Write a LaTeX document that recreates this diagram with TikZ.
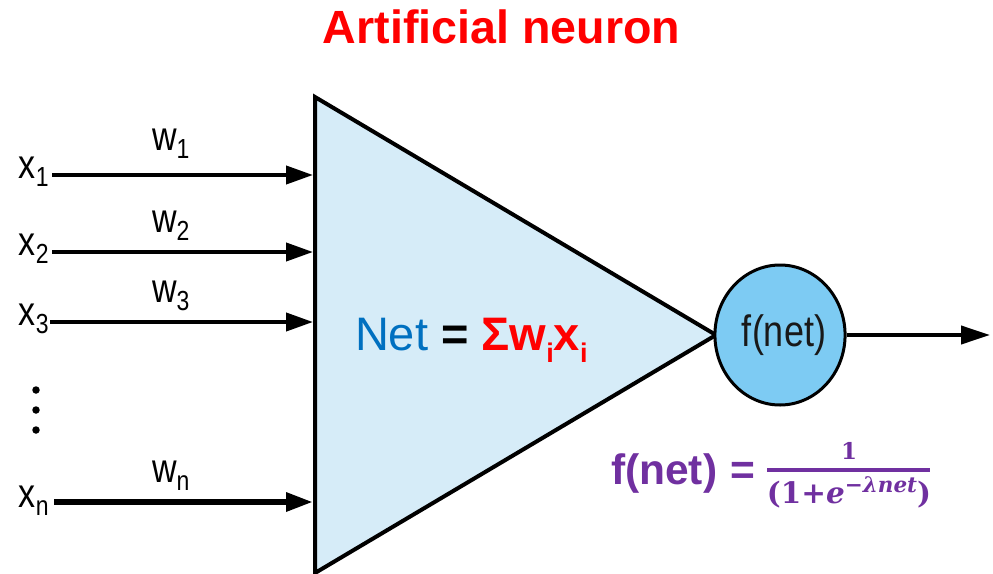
\RequirePackage{fix-cm}
\documentclass[tikz,border=0pt]{standalone}
\usepackage{graphicx}
\usepackage{fontspec}
\setmainfont{Liberation Sans}
\newfontfamily\fracfont{DejaVu Serif}
\usetikzlibrary{shapes.geometric,arrows.meta}
\definecolor{titlered}{RGB}{255,0,0}
\definecolor{netblue}{RGB}{0,112,192}
\definecolor{fpurple}{RGB}{112,48,160}
\definecolor{trifill}{RGB}{214,236,248}
\definecolor{circfill}{RGB}{125,203,243}
\newcommand\inlab[2]{\scalebox{1}[1.2]{\fontsize{34}{34}\selectfont #1\raisebox{-7pt}{\fontsize{23}{23}\selectfont #2}}}
\newcommand\netsub[1]{\raisebox{-12pt}{\fontsize{27}{27}\selectfont #1}}
\tikzset{
  lab/.style={anchor=base west,inner sep=0pt,outer sep=0pt},
  fracpart/.style={anchor=base,inner sep=0pt,outer sep=0pt,text=fpurple},
  inarrow/.style={line width=4pt,-{Triangle[length=27pt,width=18pt]}},
  dotmark/.style={circle,fill=black,minimum size=7.5pt,inner sep=0pt},
}
\begin{document}
\begin{tikzpicture}[x=1pt,y=-1pt]
\useasboundingbox (0,0) rectangle (993,573);
% title
\node[anchor=base,inner sep=0pt,text=titlered] (title) at (501.5,43)
  {\fontsize{46.6}{50}\selectfont\bfseries Artificial neuron};
% triangle
\coordinate (tl) at (315,97);
\coordinate (bl) at (315,573);
\coordinate (apex) at (716,335);
\draw[line width=4pt,line join=miter,fill=trifill] (tl) -- (apex) -- (bl) -- cycle;
% activation circle
\node[ellipse,draw,line width=3pt,fill=circfill,minimum width=127pt,minimum height=140pt,inner sep=0pt] (fnet) at (780,335)
  {\hspace{8pt}\scalebox{1}[1.22]{\fontsize{36}{36}\selectfont\color[RGB]{25,25,25}f(net)}};
% output
\coordinate (out) at (990,335);
\draw[line width=4pt,-{Triangle[length=29pt,width=18pt]}] (fnet.east) -- (out);
% inputs
\coordinate (s1) at (52,175); \coordinate (e1) at (313,175);
\coordinate (s2) at (52,252); \coordinate (e2) at (313,252);
\coordinate (s3) at (50,322); \coordinate (e3) at (313,322);
\coordinate (sn) at (54,502); \coordinate (en) at (313,502);
\draw[inarrow] (s1) -- (e1);
\draw[inarrow] (s2) -- (e2);
\draw[inarrow] (s3) -- (e3);
\draw[inarrow,line width=6pt] (sn) -- (en);
\node[lab] (x1) at (19,178) {\inlab{x}{1}};
\node[lab] (x2) at (19,255) {\inlab{x}{2}};
\node[lab] (x3) at (19,325) {\inlab{x}{3}};
\node[lab] (xn) at (19,507) {\inlab{x}{n}};
\node[lab] (w1) at (152,150) {\inlab{w}{1}};
\node[lab] (w2) at (152,232) {\inlab{w}{2}};
\node[lab] (w3) at (152,302) {\inlab{w}{3}};
\node[lab] (wn) at (152,482) {\inlab{w}{n}};
\node[dotmark] (d1) at (36,390) {};
\node[dotmark] (d2) at (36,410) {};
\node[dotmark] (d3) at (36,430) {};
% net expression
\node[lab] (net) at (355,350) {\fontsize{47}{47}\selectfont
  {\color{netblue}Net} {\bfseries = \color{titlered}Σw\netsub{i}x\netsub{i}}};
% activation formula
\node[lab,text=fpurple] (flhs) at (611,484) {\fontsize{42.5}{42.5}\selectfont\bfseries f(net)\hspace{13pt}=};
\node[fracpart] (fnum) at (849,459) {\fracfont\bfseries\fontsize{23}{23}\selectfont 1};
\node[fracpart] (fden) at (849,503) {\fracfont\bfseries\fontsize{29.5}{29.5}\selectfont
  (1+\textit{e}\raisebox{10.5pt}{\fontsize{21.5}{21.5}\selectfont\textit{−λnet}})};
\coordinate (barL) at (767,470);
\coordinate (barR) at (930,470);
\draw[fpurple,line width=3.5pt] (barL) -- (barR);
\end{tikzpicture}
\end{document}
